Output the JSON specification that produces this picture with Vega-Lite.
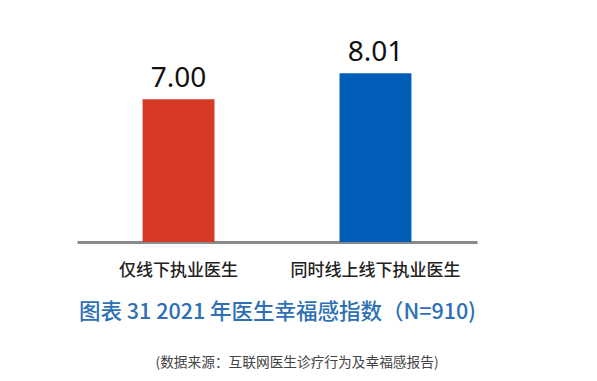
{
  "$schema": "https://vega.github.io/schema/vega-lite/v6.json",
  "autosize": {"type": "none"},
  "width": 400,
  "height": 222,
  "padding": {"left": 77, "top": 20, "right": 120, "bottom": 139},
  "background": "white",
  "config": {"view": {"stroke": null}, "font": "Noto Sans CJK SC"},
  "data": {"values": [
    {"group": "仅线下执业医生", "value": 7.00, "label": "7.00"},
    {"group": "同时线上线下执业医生", "value": 8.01, "label": "8.01"}
  ]},
  "title": {
    "text": "(数据来源：互联网医生诊疗行为及幸福感报告)",
    "orient": "bottom",
    "anchor": "middle",
    "dx": 20,
    "offset": 33,
    "fontSize": 13.7,
    "fontWeight": "normal",
    "color": "#444444",
    "font": "Noto Sans CJK SC"
  },
  "encoding": {
    "x": {
      "field": "group",
      "type": "nominal",
      "sort": null,
      "scale": {"paddingInner": 0.635, "paddingOuter": 0.333},
      "axis": {
        "title": "图表 31 2021 年医生幸福感指数（N=910)",
        "titleFontSize": 21.5,
        "titleColor": "#2e6fb6",
        "titleFontWeight": 500,
        "titleFont": "Noto Sans CJK SC",
        "titlePadding": 23,
        "labelAngle": 0,
        "labelFontSize": 17,
        "labelColor": "#222222",
        "labelFontWeight": 500,
        "labelFont": "Noto Sans CJK SC",
        "labelPadding": 20,
        "ticks": false,
        "domainColor": "#8a8a8a",
        "domainWidth": 3,
        "grid": false
      }
    },
    "y": {
      "field": "value",
      "type": "quantitative",
      "scale": {"domain": [1.44, 10.08], "zero": false, "nice": false, "clamp": true},
      "axis": null
    }
  },
  "layer": [
    {
      "mark": {"type": "bar"},
      "encoding": {
        "color": {
          "field": "group",
          "type": "nominal",
          "scale": {"domain": ["仅线下执业医生", "同时线上线下执业医生"], "range": ["#d63a26", "#005eb8"]},
          "legend": null
        }
      }
    },
    {
      "mark": {"type": "text", "baseline": "alphabetic", "dy": -12, "fontSize": 28, "font": "Noto Sans", "color": "#111111"},
      "encoding": {"text": {"field": "label"}}
    }
  ]
}
